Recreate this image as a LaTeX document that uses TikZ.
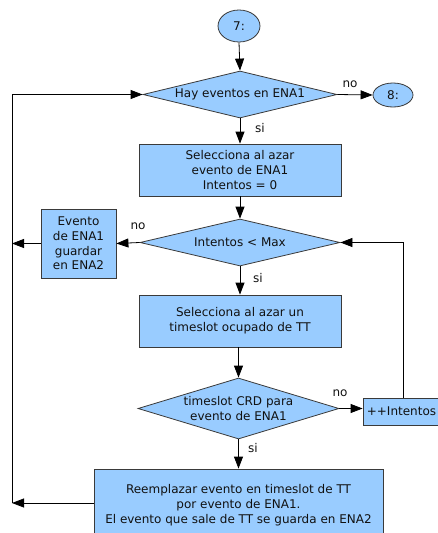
\documentclass[tikz,border=0pt]{standalone}
\usepackage{fontspec}
\setmainfont{DejaVu Sans}
\usetikzlibrary{shapes.geometric,arrows.meta}
\definecolor{fillblue}{HTML}{99CCFF}
\definecolor{edge}{HTML}{3A3A3A}
\definecolor{ink}{HTML}{111111}
\begin{document}
\begin{tikzpicture}[x=1pt,y=-1pt,
  base/.style={draw=edge,line width=0.8pt,fill=fillblue,inner sep=0pt,text=ink,
    font=\fontsize{12}{14.8}\selectfont,align=center},
  proc/.style={base,rectangle},
  dia/.style={base,diamond},
  term/.style={base,ellipse},
  arr/.style={-{Triangle[length=12pt,width=9pt]},line width=0.8pt,draw=black},
  lbl/.style={font=\fontsize{12}{14.8}\selectfont,inner sep=0pt,text=ink,align=center}]
\clip (0,0) rectangle (438,533);
\coordinate (lx) at (12,0);
\coordinate (rx) at (403,0);
% nodes
\node[term,minimum width=42pt,minimum height=32pt] (c7) at (239,26) {7:};
\node[dia,minimum width=194pt,minimum height=47pt,
  label={[lbl]center:Hay eventos en ENA1}] (d1) at (240,94.5) {};
\node[term,minimum width=40pt,minimum height=24pt] (c8) at (393,95) {8:};
\node[proc,minimum width=202pt,minimum height=52pt] (b1) at (240,170)
  {Selecciona al azar\\evento de ENA1\\Intentos = 0};
\node[dia,minimum width=200pt,minimum height=47pt,
  label={[lbl]center:Intentos < Max}] (d2) at (240,242.5) {};
\node[proc,minimum width=75pt,minimum height=69pt] (e2) at (78.5,243.5)
  {Evento\\de ENA1\\guardar\\en ENA2};
\node[proc,minimum width=202pt,minimum height=52pt] (b2) at (240,321)
  {Selecciona al azar un\\timeslot ocupado de TT};
\node[dia,minimum width=201pt,minimum height=61pt,
  label={[lbl]center:timeslot CRD para\\evento de ENA1}] (d3) at (238.5,408.5) {};
\node[proc,minimum width=77pt,minimum height=27pt] (inc) at (401.5,411.5) {++Intentos};
\node[proc,minimum width=289pt,minimum height=72pt] (b3) at (238.5,505)
  {Reemplazar evento en timeslot de TT\\por evento de ENA1.\\El evento que sale de TT se guarda en ENA2};
% labels
\node[lbl] (l1) at (350,84) {no};
\node[lbl] (l2) at (260,128) {si};
\node[lbl] (l3) at (138,226) {no};
\node[lbl] (l4) at (258,278) {si};
\node[lbl] (l5) at (340,393) {no};
\node[lbl] (l6) at (253,448) {si};
% connectors
\draw[arr] (c7.south) -- (d1.north);
\draw[arr] (d1.east) -- (c8.west);
\draw[arr] (d1.south) -- (b1.north);
\draw[arr] (b1.south) -- (d2.north);
\draw[arr] (d2.west) -- (e2.east);
\draw[arr] (e2.west) -- (e2.west -| lx);
\draw[arr] (d2.south) -- (b2.north);
\draw[arr] (d3.north |- b2.south) -- (d3.north);
\draw[arr] (d3.east) -- (d3.east -| inc.west);
\draw[arr] (d3.south) -- (d3.south |- b3.north);
\draw[arr] (b3.west |- 0,503) -- (lx |- 0,503);
\draw[arr] (lx |- 0,503) |- (d1.west);
\draw[arr] (inc.north -| rx) |- (d2.east);
\end{tikzpicture}
\end{document}
